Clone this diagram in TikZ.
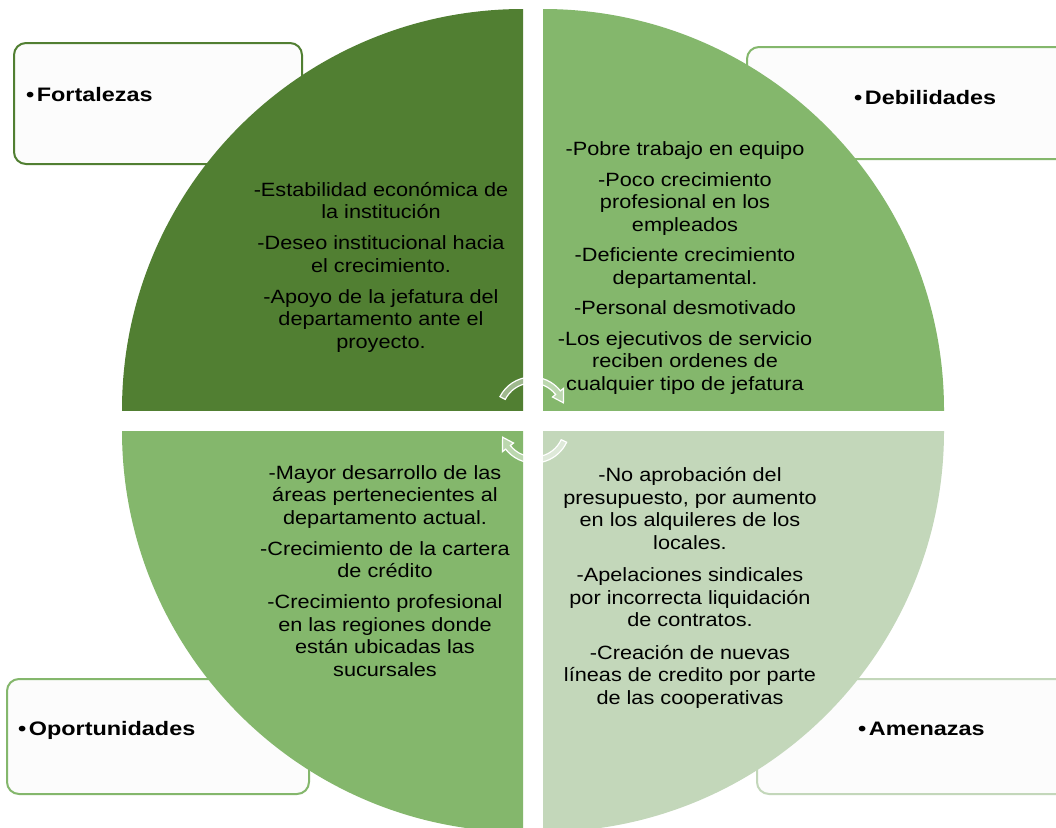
\documentclass[tikz,border=0pt]{standalone}
\usepackage{fontspec}
\setmainfont[FakeStretch=1.13]{Liberation Sans}
\newfontfamily\headfont[FakeStretch=1.2]{Liberation Sans}
\definecolor{verdeosc}{RGB}{81,127,50}
\definecolor{verdemed}{RGB}{132,183,108}
\definecolor{verdecla}{RGB}{195,215,186}
\definecolor{cajafondo}{RGB}{252,252,252}

\begin{document}
\begin{tikzpicture}[x=1pt,y=-1pt,
  caja/.style={line width=2pt, fill=cajafondo, rounded corners=12pt},
  titulo/.style={anchor=base west, inner sep=0pt, font=\headfont\bfseries\fontsize{19.5}{23}\selectfont},
  texto/.style={align=center, inner sep=0pt, font=\fontsize{19.2}{22.5}\selectfont},
  flecha/.style={draw=white, line width=1.2pt, fill=white, fill opacity=0.45}]
\clip (0,0) rectangle (1056,827);
\fill[white] (0,0) rectangle (1056,827);

% cajas de fondo
\draw[caja, draw=verdeosc] (14,43) rectangle (302,164);
\draw[caja, draw=verdemed] (747,47) rectangle (1075,159);
\draw[caja, draw=verdemed] (7,679) rectangle (309,794);
\draw[caja, draw=verdecla] (757,679) rectangle (1075,794);
\node[titulo] (fort) at (26,101) {•\hspace{2.5pt}Fortalezas};
\node[titulo] (debi) at (854,104) {•\hspace{2.5pt}Debilidades};
\node[titulo] (opor) at (18,735) {•\hspace{2.5pt}Oportunidades};
\node[titulo] (amen) at (858,735) {•\hspace{2.5pt}Amenazas};

% cuadrantes
\begin{scope}
\clip (523,410) rectangle (122,9);
\fill[verdeosc] (523,410) circle[radius=401];
\end{scope}
\begin{scope}
\clip (543,410) rectangle (944,9);
\fill[verdemed] (543,410) circle[radius=401];
\end{scope}
\begin{scope}
\clip (523,431) rectangle (122,832);
\fill[verdemed] (523,431) circle[radius=401];
\end{scope}
\begin{scope}
\clip (543,431) rectangle (944,832);
\fill[verdecla] (543,431) circle[radius=401];
\end{scope}

% flechas del centro
\begin{scope}[shift={(532,413)}]
\draw[flecha] (207:36) arc[start angle=207, end angle=322, radius=36]
  -- (322:40) -- (342:33) -- (322:26) -- (322:30)
  arc[start angle=322, end angle=207, radius=30] -- cycle;
\end{scope}
\begin{scope}[shift={(534,427)}]
\draw[flecha] (25:36) arc[start angle=25, end angle=142, radius=36]
  -- (142:40) -- (162:33) -- (142:26) -- (142:30)
  arc[start angle=142, end angle=25, radius=30] -- cycle;
\end{scope}

\node[texto] (fortxt) at (381,267) {-Estabilidad económica de\\ la institución\\[8.5pt]
  -Deseo institucional hacia\\ el crecimiento.\\[8.5pt]
  -Apoyo de la jefatura del\\ departamento ante el\\ proyecto.};
\node[texto] (debtxt) at (685,268) {-Pobre trabajo en equipo\\[8pt]
  -Poco crecimiento\\ profesional en los\\ empleados\\[8pt]
  -Deficiente crecimiento\\ departamental.\\[8pt]
  -Personal desmotivado\\[8pt]
  -Los ejecutivos de servicio\\ reciben ordenes de\\ cualquier tipo de jefatura};
\node[texto] (opotxt) at (385,571) {-Mayor desarrollo de las\\ áreas pertenecientes al\\ departamento actual.\\[8.5pt]
  -Crecimiento de la cartera\\ de crédito\\[8.5pt]
  -Crecimiento profesional\\ en las regiones donde\\ están ubicadas las\\ sucursales};
\node[texto] (amtxt) at (690,588) {-No aprobación del\\ presupuesto, por aumento\\ en los alquileres de los\\ locales.\\[10pt]
  -Apelaciones sindicales\\ por incorrecta liquidación\\ de contratos.\\[10pt]
  -Creación de nuevas\\ líneas de credito por parte\\ de las cooperativas};
\end{tikzpicture}
\end{document}
